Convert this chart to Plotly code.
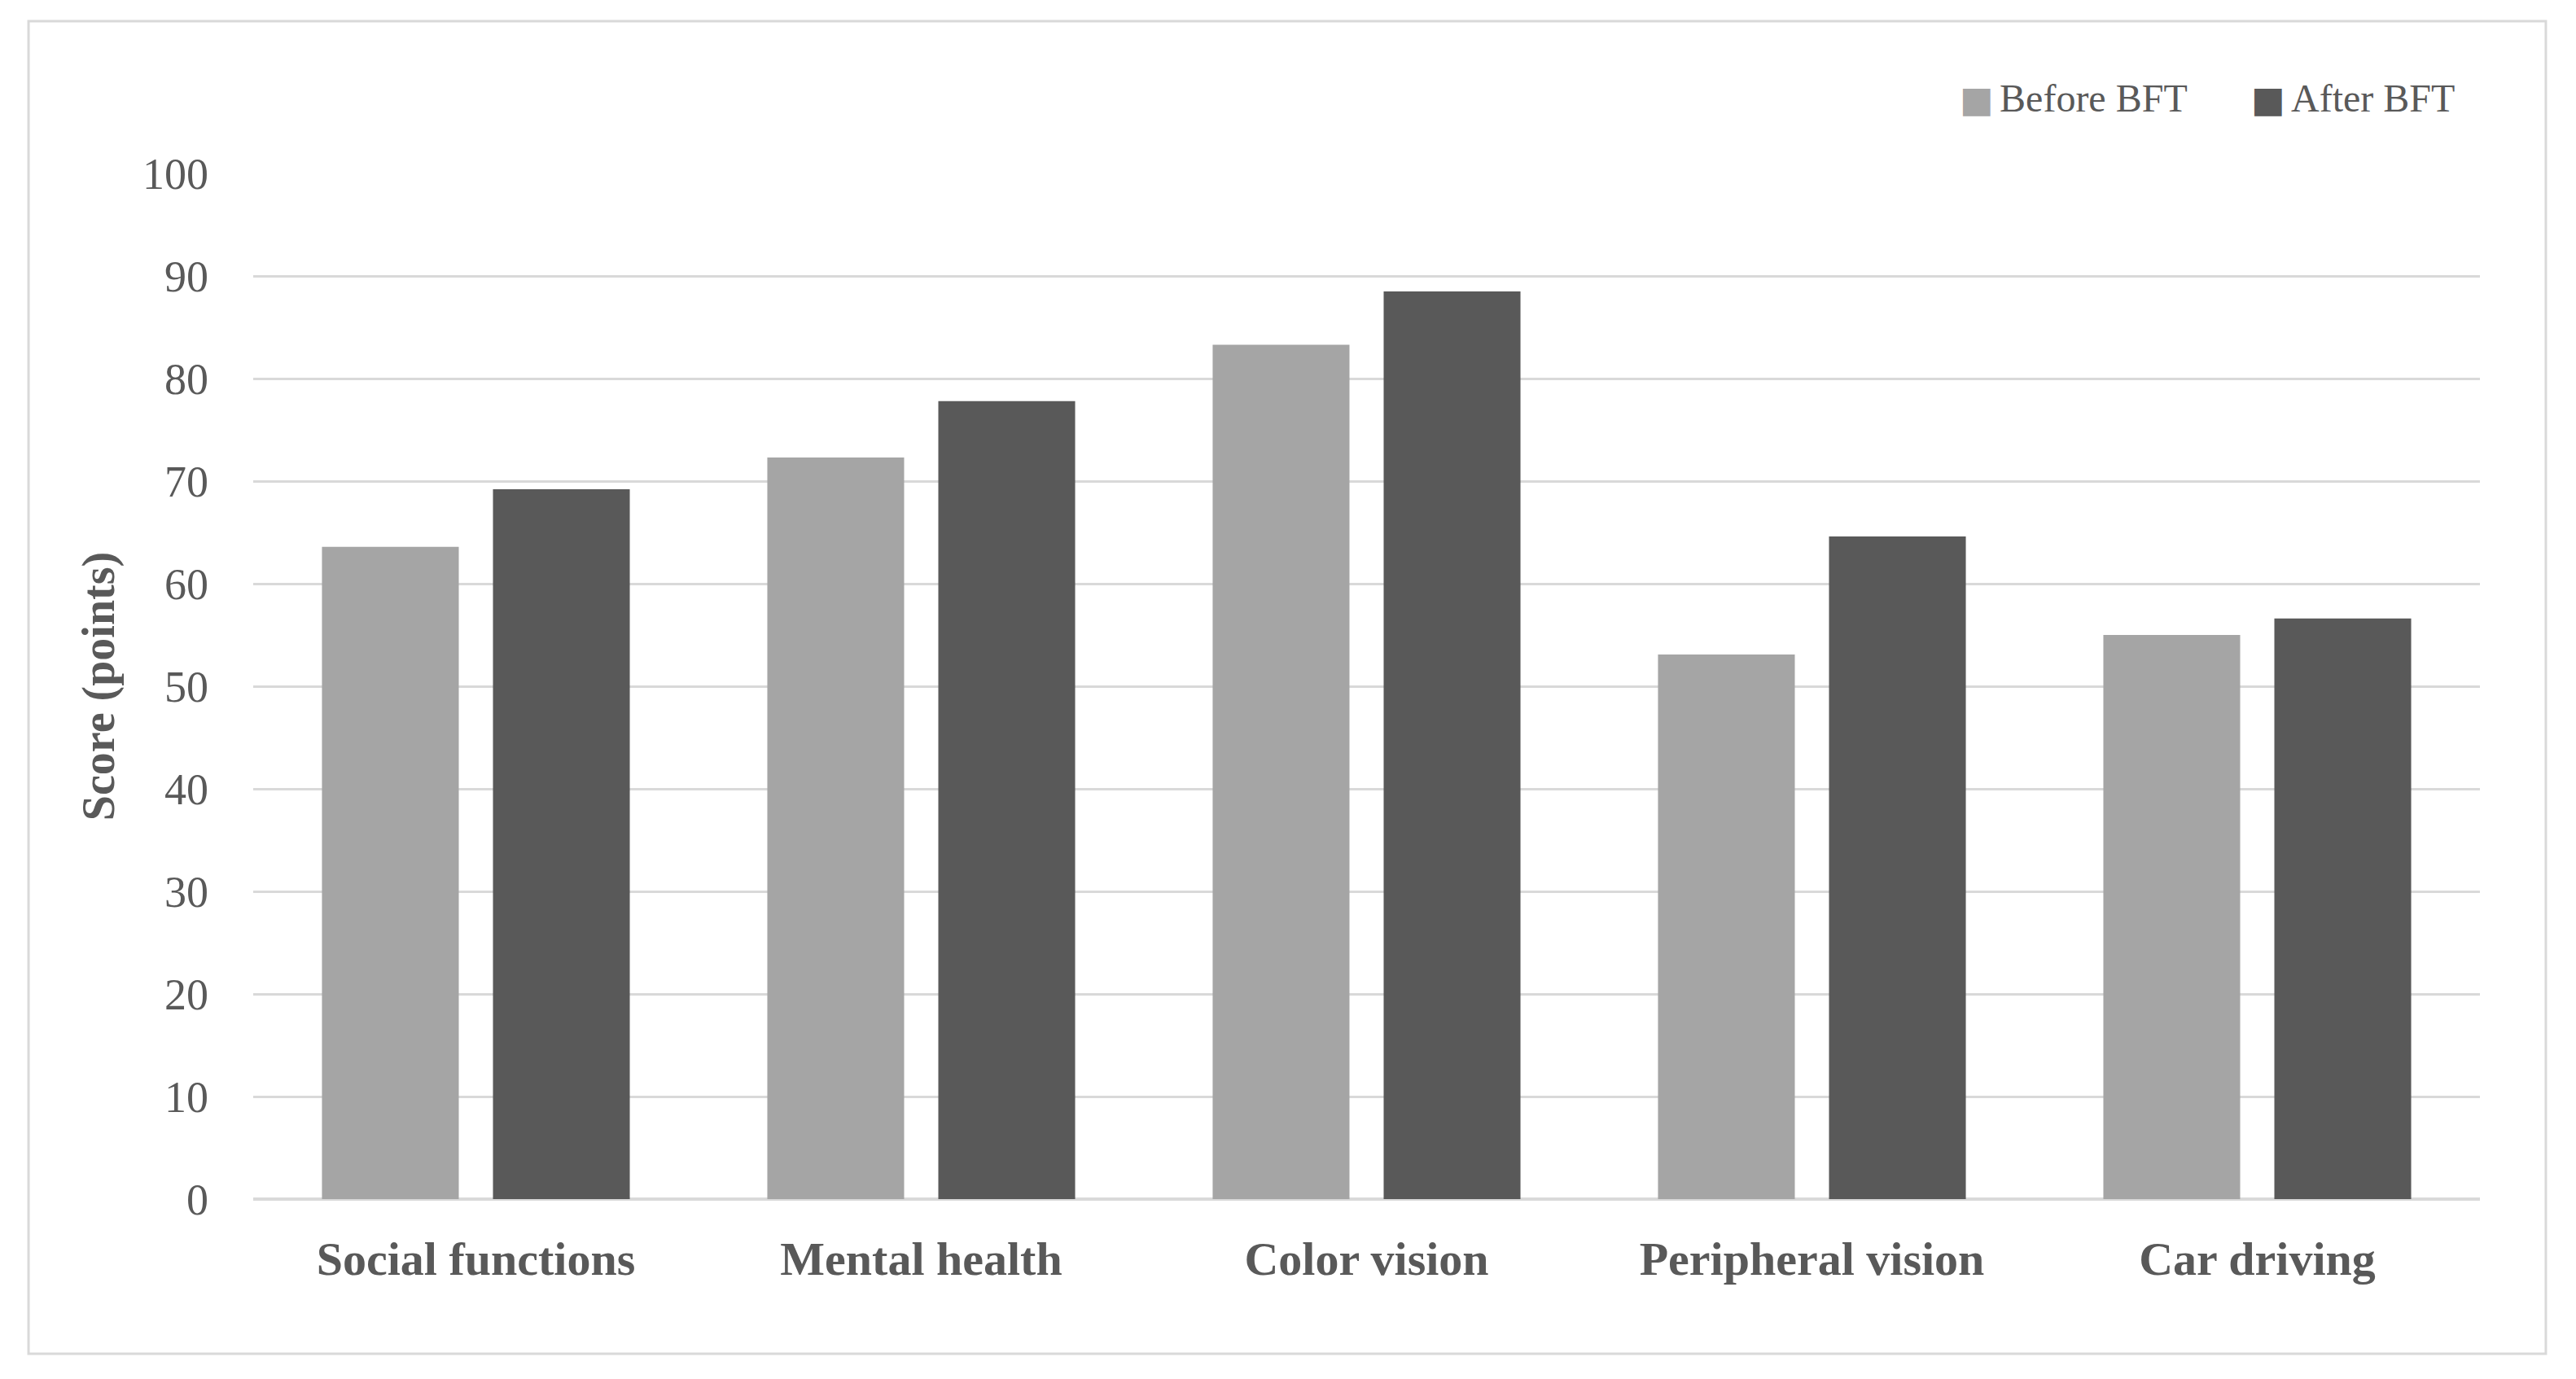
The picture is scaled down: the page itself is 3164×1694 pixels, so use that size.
import plotly.graph_objects as go

categories = ["Social functions", "Mental health", "Color vision", "Peripheral vision", "Car driving"]
series_names = ["Before BFT", "After BFT"]
before_bft = [63.6, 72.3, 83.3, 53.1, 55.0]
after_bft = [69.2, 77.8, 88.5, 64.6, 56.6]
y_ticks = [0, 10, 20, 30, 40, 50, 60, 70, 80, 90, 100]

colors = ["#a5a5a5", "#595959"]
text_color = "#595959"
grid_color = "#d9d9d9"
font_family = "Liberation Serif"

# page has an 8px body margin: compensate so the chart lands on the 3164x1694 window
W, H = 3156, 1686
ml, mr, mt, mb = 303, 118, 205, 221

fig = go.Figure()
for name, vals, col in zip(series_names, [before_bft, after_bft], colors):
    fig.add_trace(go.Bar(x=categories, y=vals, name=name, marker=dict(color=col, line=dict(width=0)),
                         showlegend=False))

# legend built as annotations (large square keys)
legend_x = [0.7655, 0.8965]
for name, col, lx in zip(series_names, colors, legend_x):
    fig.add_annotation(
        xref="paper", yref="paper", x=lx, y=1.0738, xanchor="left", yanchor="middle",
        text=f'<span style="color:{col};font-family:DejaVu Sans;font-size:44px">■</span>'
             f'<span style="font-size:30px"> </span>{name}',
        showarrow=False, font=dict(family=font_family, size=48, color=text_color))

# outer chart border
fig.add_shape(type="rect", xref="paper", yref="paper",
              x0=-0.1009, x1=1.0296, y0=-0.1508, y1=1.1484,
              line=dict(color=grid_color, width=3), fillcolor="rgba(0,0,0,0)", layer="below")

fig.update_layout(
    width=W, height=H,
    margin=dict(l=ml, r=mr, t=mt, b=mb, autoexpand=False),
    paper_bgcolor="white", plot_bgcolor="white",
    barmode="group", bargap=0.232, bargroupgap=0.2,
    font=dict(family=font_family, color=text_color),
    showlegend=False,
)
fig.update_yaxes(
    range=[0, 100], tickvals=y_ticks, ticktext=[str(v) for v in y_ticks],
    showgrid=True, gridcolor=grid_color, gridwidth=3,
    zeroline=True, zerolinecolor=grid_color, zerolinewidth=4,
    showline=False, ticks="", ticklabelstandoff=54,
    tickfont=dict(family=font_family, size=54, color=text_color),
    title=dict(text="<b>Score (points)</b>", standoff=16,
               font=dict(family=font_family, size=56, color=text_color)),
    automargin=False,
)
fig.update_xaxes(
    showgrid=False, showline=False, ticks="", ticklabelstandoff=34,
    tickvals=categories, ticktext=[f"<b>{c}</b>" for c in categories],
    tickfont=dict(family=font_family, size=58, color=text_color),
    automargin=False,
)

fig.write_html("out.html")
